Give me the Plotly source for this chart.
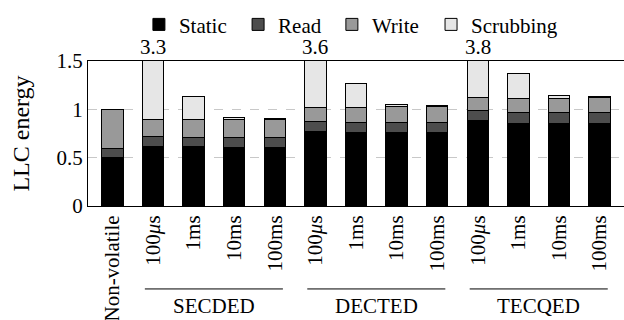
import plotly.graph_objects as go

# ---- data ----
tick_labels = ["Non-volatile",
               "100<i>μ</i>s", "1ms", "10ms", "100ms",
               "100<i>μ</i>s", "1ms", "10ms", "100ms",
               "100<i>μ</i>s", "1ms", "10ms", "100ms"]
static = [0.50, 0.62, 0.613, 0.61, 0.61, 0.768, 0.757, 0.757, 0.757, 0.882, 0.858, 0.858, 0.858]
read = [0.09, 0.10, 0.10, 0.10, 0.10, 0.107, 0.103, 0.103, 0.103, 0.103, 0.105, 0.105, 0.105]
write = [0.41, 0.175, 0.183, 0.183, 0.183, 0.145, 0.16, 0.17, 0.17, 0.138, 0.147, 0.15, 0.157]
scrubbing = [0.0, 2.405, 0.232, 0.027, 0.011, 2.58, 0.252, 0.025, 0.01, 2.677, 0.258, 0.031, 0.01]
groups = ["SECDED", "DECTED", "TECQED"]
group_members = [[1, 2, 3, 4], [5, 6, 7, 8], [9, 10, 11, 12]]
y_max = 1.5

x = list(range(len(tick_labels)))
FONT = "Liberation Serif, Times New Roman, serif"
FS = 21

series = [
    ("Static", static, "#000000"),
    ("Read", read, "#4d4d4d"),
    ("Write", write, "#999999"),
    ("Scrubbing", scrubbing, "#e6e6e6"),
]
legend_ids = ["legend", "legend2", "legend3", "legend4"]
legend_x = [0.095, 0.280, 0.455, 0.640]

fig = go.Figure()
for (name, vals, col), lid in zip(series, legend_ids):
    fig.add_trace(go.Bar(
        x=x, y=vals, name=name, width=0.53, legend=lid,
        marker=dict(color=col, line=dict(color="#000000", width=1)),
    ))

totals = [s + r + w + c for s, r, w, c in zip(static, read, write, scrubbing)]
annotations = []
for i, t in enumerate(totals):
    if t > y_max:
        annotations.append(dict(x=i, y=y_max, xref="x", yref="y", text=f"{t:.1f}",
                                showarrow=False, yanchor="bottom", yshift=0,
                                font=dict(family=FONT, size=FS, color="black")))

shapes = []
for g, members in zip(groups, group_members):
    x0 = members[0] - 0.2
    x1 = members[-1] + 0.2
    shapes.append(dict(type="line", xref="x", yref="paper", x0=x0, x1=x1,
                       y0=-0.572, y1=-0.572, line=dict(color="black", width=1)))
    annotations.append(dict(x=(members[0] + members[-1]) / 2, y=-0.693, xref="x", yref="paper",
                            text=g, showarrow=False, yanchor="middle",
                            font=dict(family=FONT, size=21, color="black")))

legend_cfg = {}
for lid, lx in zip(legend_ids, legend_x):
    legend_cfg[lid] = dict(orientation="h", x=lx, xanchor="left", y=1.25, yanchor="middle",
                           font=dict(family=FONT, size=FS), bgcolor="rgba(0,0,0,0)",
                           itemwidth=30)

fig.update_layout(
    width=624, height=320,
    margin=dict(l=88, r=0, t=61, b=114, autoexpand=False),
    barmode="stack",
    plot_bgcolor="white", paper_bgcolor="white",
    font=dict(family=FONT, size=FS, color="black"),
    showlegend=True,
    annotations=annotations,
    shapes=shapes,
    **legend_cfg,
)
fig.update_xaxes(range=[-0.6, 12.6], tickvals=x, ticktext=tick_labels, tickangle=-90,
                 showline=True, mirror=True, linecolor="black", linewidth=1,
                 showgrid=False, zeroline=False, ticks="", layer="below traces",
                 automargin=False,
                 tickfont=dict(family=FONT, size=FS, color="black"))
fig.update_yaxes(range=[0, y_max], tickvals=[0, 0.5, 1, 1.5], ticktext=["0", "0.5", "1", "1.5"],
                 showline=True, mirror=True, linecolor="black", linewidth=1,
                 showgrid=True, gridcolor="#c8c8c8", griddash="dash", gridwidth=1,
                 zeroline=False, ticks="", layer="below traces", automargin=False,
                 title=dict(text="LLC energy", standoff=20, font=dict(family=FONT, size=24)),
                 tickfont=dict(family=FONT, size=FS, color="black"))

fig.write_html("out.html", post_script="document.body.style.margin='0';",
               config={"displayModeBar": False})
